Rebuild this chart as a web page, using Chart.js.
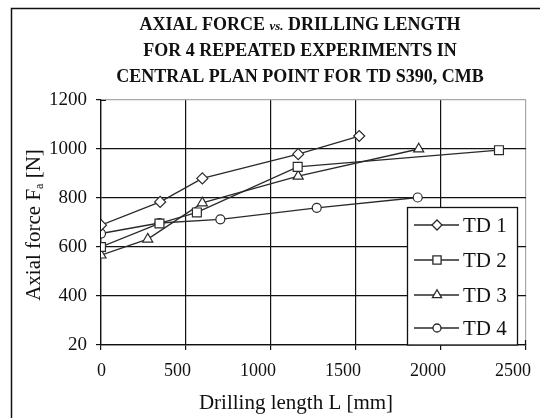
<!DOCTYPE html>
<html>
<head>
<meta charset="utf-8">
<script src="https://cdn.jsdelivr.net/npm/chart.js@4.4.1/dist/chart.umd.min.js"></script>
<style>
  html, body { margin: 0; padding: 0; background: #fff; }
  #wrap { width: 540px; height: 418px; }
</style>
</head>
<body>
<div id="wrap"><canvas id="chart" width="540" height="418"></canvas></div>
<script>
// titles
const titleLine1 = ['AXIAL FORCE ', 'vs.', ' DRILLING LENGTH'];
const titleLine2 = 'FOR 4 REPEATED EXPERIMENTS IN';
const titleLine3 = 'CENTRAL PLAN POINT FOR TD S390, CMB';
const xTitle = 'Drilling length L [mm]';
const yTitle = ['Axial force F', 'a', ' [N]'];

// series (drilling length L [mm], axial force Fa [N])
const seriesLabels = ['TD 1', 'TD 2', 'TD 3', 'TD 4'];
const td1L = [0, 348, 596, 1160, 1519];
const td1F = [689, 784, 880, 979, 1053];
const td2L = [0, 344, 564, 1157, 2341];
const td2F = [600, 696, 741, 927, 995];
const td3L = [0, 275, 596, 1160, 1869];
const td3F = [567, 632, 780, 889, 1000];
const td4L = [0, 344, 702, 1269, 1863];
const td4F = [655, 698, 713, 760, 802];

// axis ticks
const xTicks = [0, 500, 1000, 1500, 2000, 2500];
const xTickLabels = ['0', '500', '1000', '1500', '2000', '2500'];
const yTicks = [200, 400, 600, 800, 1000, 1200];
const yTickLabels = ['20', '400', '600', '800', '1000', '1200'];

const serif = "'Liberation Serif', 'DejaVu Serif', serif";
const ink = '#2a2a2a';

const styles = [
  { pointStyle: 'rectRot', pointRadius: 5.5 },
  { pointStyle: 'rect', pointRadius: 6.3 },
  { pointStyle: 'triangle', pointRadius: 5.8 },
  { pointStyle: 'circle', pointRadius: 4.5 }
];

function pts(xs, ys) {
  return xs.map((x, i) => ({ x: x, y: ys[i] }));
}

const allData = [pts(td1L, td1F), pts(td2L, td2F), pts(td3L, td3F), pts(td4L, td4F)];

const datasets = allData.map((d, i) => ({
  label: seriesLabels[i],
  data: d,
  showLine: true,
  borderColor: ink,
  borderWidth: 1.3,
  backgroundColor: '#fff',
  pointBackgroundColor: '#fff',
  pointBorderColor: ink,
  pointBorderWidth: 1.2,
  pointStyle: styles[i].pointStyle,
  pointRadius: styles[i].pointRadius,
  tension: 0
}));

// frame, titles, legend
const decorations = {
  id: 'decorations',
  beforeDraw(chart) {
    const ctx = chart.ctx;
    ctx.save();
    ctx.strokeStyle = '#111';
    ctx.lineWidth = 1.5;
    ctx.beginPath();
    ctx.moveTo(11.5, 418);
    ctx.lineTo(11.5, 8.5);
    ctx.lineTo(540, 8.5);
    ctx.stroke();
    ctx.restore();
  },
  afterDraw(chart) {
    const ctx = chart.ctx;
    const area = chart.chartArea;
    ctx.save();
    ctx.fillStyle = '#111';
    ctx.textBaseline = 'alphabetic';

    // title
    const bold = 'bold 18px ' + serif;
    const ital = 'italic bold 13px ' + serif;
    const cx = 300;
    ctx.font = bold;
    const w1 = ctx.measureText(titleLine1[0]).width;
    const w3 = ctx.measureText(titleLine1[2]).width;
    ctx.font = ital;
    const w2 = ctx.measureText(titleLine1[1]).width;
    let x = cx - (w1 + w2 + w3) / 2;
    ctx.textAlign = 'left';
    ctx.font = bold; ctx.fillText(titleLine1[0], x, 30); x += w1;
    ctx.font = ital; ctx.fillText(titleLine1[1], x, 30); x += w2;
    ctx.font = bold; ctx.fillText(titleLine1[2], x, 30);
    ctx.textAlign = 'center';
    ctx.fillText(titleLine2, cx, 56);
    ctx.fillText(titleLine3, cx, 82);

    // x title
    ctx.font = '21px ' + serif;
    ctx.fillText(xTitle, 296, 409);

    // y title with subscript
    ctx.translate(40, 225);
    ctx.rotate(-Math.PI / 2);
    const big = '21px ' + serif;
    const small = '12px ' + serif;
    ctx.font = big;
    const a = ctx.measureText(yTitle[0]).width;
    const c = ctx.measureText(yTitle[2]).width;
    ctx.font = small;
    const b = ctx.measureText(yTitle[1]).width;
    let yx = -(a + b + c) / 2;
    ctx.textAlign = 'left';
    ctx.font = big; ctx.fillText(yTitle[0], yx, 0); yx += a;
    ctx.font = small; ctx.fillText(yTitle[1], yx, 3); yx += b;
    ctx.font = big; ctx.fillText(yTitle[2], yx, 0);
    ctx.restore();

    // inner halves of crossing ticks
    ctx.save();
    ctx.strokeStyle = '#111';
    ctx.lineWidth = 1.2;
    ctx.beginPath();
    ctx.moveTo(area.left, area.top + 0.5); ctx.lineTo(area.left + 5, area.top + 0.5);
    ctx.moveTo(area.right - 0.5, area.bottom); ctx.lineTo(area.right - 0.5, area.bottom - 5);
    ctx.stroke();
    ctx.restore();

    // legend box
    ctx.save();
    const bx = 407.5, by = 207.5, bw = 110, bh = area.bottom - 207.5;
    ctx.fillStyle = '#fff';
    ctx.fillRect(bx, by, bw, bh);
    ctx.strokeStyle = '#111';
    ctx.lineWidth = 1.3;
    ctx.strokeRect(bx, by, bw, bh);
    const rows = [225, 260, 295, 328];
    ctx.font = '21px ' + serif;
    ctx.textAlign = 'left';
    ctx.textBaseline = 'middle';
    chart.data.datasets.forEach((ds, i) => {
      const ry = rows[i];
      ctx.strokeStyle = ink;
      ctx.lineWidth = 1.3;
      ctx.beginPath();
      ctx.moveTo(414, ry); ctx.lineTo(459, ry);
      ctx.stroke();
      ctx.fillStyle = '#fff';
      Chart.helpers.drawPoint(ctx, {
        pointStyle: ds.pointStyle,
        radius: ds.pointRadius - 0.5,
        rotation: 0,
        borderWidth: 1.2
      }, 437, ry);
      ctx.fillStyle = '#111';
      ctx.fillText(ds.label, 463, ry + 1);
    });
    ctx.restore();
  }
};

new Chart(document.getElementById('chart'), {
  type: 'scatter',
  data: { datasets: datasets },
  options: {
    responsive: false,
    animation: false,
    layout: { padding: { top: 100, right: 14, left: 0, bottom: 0 } },
    plugins: {
      legend: { display: false },
      tooltip: { enabled: false },
      title: { display: false }
    },
    scales: {
      x: {
        type: 'linear',
        min: xTicks[0],
        max: xTicks[xTicks.length - 1],
        afterBuildTicks: s => { s.ticks = xTicks.map(v => ({ value: v })); },
        afterFit: s => { s.height = 73; s.paddingLeft = 0; s.paddingRight = 0; },
        ticks: {
          color: '#111',
          font: { family: serif, size: 18 },
          padding: 10,
          maxRotation: 0,
          align: 'end',
          labelOffset: 5,
          callback: v => xTickLabels[xTicks.indexOf(v)]
        },
        grid: {
          color: c => (c.tick && c.tick.value === 2500 ? '#a8a8a8' : '#111'),
          tickColor: '#111',
          tickLength: 5,
          lineWidth: 1.2
        },
        border: { color: '#111', width: 1.3 }
      },
      y: {
        min: yTicks[0],
        max: yTicks[yTicks.length - 1],
        afterBuildTicks: s => { s.ticks = yTicks.map(v => ({ value: v })); },
        afterFit: s => { s.width = 101; s.paddingTop = 0; s.paddingBottom = 0; },
        ticks: {
          color: '#111',
          font: { family: serif, size: 19 },
          padding: 9,
          callback: v => yTickLabels[yTicks.indexOf(v)]
        },
        grid: {
          color: c => (c.tick && c.tick.value === 1200 ? '#a8a8a8' : '#111'),
          tickColor: '#111',
          tickLength: 5,
          lineWidth: 1.2
        },
        border: { color: '#111', width: 1.3 }
      }
    }
  },
  plugins: [decorations]
});
</script>
</body>
</html>
